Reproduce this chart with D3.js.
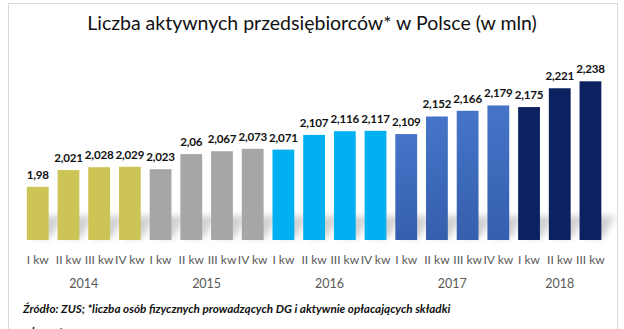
<!DOCTYPE html>
<html><head><meta charset="utf-8">
<script src="https://cdn.jsdelivr.net/npm/d3@7"></script>
<style>body{margin:0;background:#fff}svg{display:block}</style>
</head><body>
<svg id="c" width="624" height="329"></svg>
<script>
const quarters = ["I kw","II kw","III kw","IV kw","I kw","II kw","III kw","IV kw","I kw","II kw","III kw","IV kw","I kw","II kw","III kw","IV kw","I kw","II kw","III kw"];
const years = ["2014","2014","2014","2014","2015","2015","2015","2015","2016","2016","2016","2016","2017","2017","2017","2017","2018","2018","2018"];
const values = [1.98,2.021,2.028,2.029,2.023,2.06,2.067,2.073,2.071,2.107,2.116,2.117,2.109,2.152,2.166,2.179,2.175,2.221,2.238];
const valueLabels = ["1,98","2,021","2,028","2,029","2,023","2,06","2,067","2,073","2,071","2,107","2,116","2,117","2,109","2,152","2,166","2,179","2,175","2,221","2,238"];
const yearList = ["2014","2015","2016","2017","2018"];
const yearColors = ["#CCC555","#A6A6A6","#00B0F0","#3F6DC0","#0C2260"];
const title = "Liczba aktywnych przedsiębiorców* w Polsce (w mln)";
const note = "Źródło: ZUS; *liczba osób fizycznych prowadzących DG i aktywnie opłacających składki";

const svg = d3.select("#c");
const font = "Lato, 'Open Sans', sans-serif";
const defs = svg.append("defs");
defs.append("filter").attr("id","blur").attr("x","-50%").attr("y","-50%").attr("width","200%").attr("height","200%")
  .append("feGaussianBlur").attr("stdDeviation",3);
const g2017 = defs.append("linearGradient").attr("id","g2017").attr("x1",0).attr("y1",0).attr("x2",0).attr("y2",1);
g2017.append("stop").attr("offset","0%").attr("stop-color","#4674C8");
g2017.append("stop").attr("offset","100%").attr("stop-color","#355FAE");

// frame
svg.append("rect").attr("x",8.5).attr("y",3.5).attr("width",609).attr("height",340)
  .attr("fill","none").attr("stroke","#D9D9D9");

const idx = d3.range(values.length);
const x = d3.scaleBand().domain(idx).range([22.4,605.8]).paddingInner(0.29).paddingOuter(0.145);
const y = d3.scaleLinear().domain([1.85,2.25]).range([240,76.4]);
const color = d3.scaleOrdinal().domain(yearList).range(yearColors);
const fillFor = i => years[i]==="2017" ? "url(#g2017)" : color(years[i]);

// shadows
svg.append("g").selectAll("path").data(idx).join("path")
  .attr("d", i => {
    const x0 = x(i), w = x.bandwidth(), b = y(1.85);
    return `M${x0+4},${b-2} L${x0+w+2},${b-2} L${x0+w+14},${b-24} L${x0+12},${b-24} Z`;
  })
  .attr("fill","#9a9a9a").attr("opacity",0.45).attr("filter","url(#blur)");

svg.append("g").selectAll("rect").data(idx).join("rect")
  .attr("x", i => x(i)).attr("width", x.bandwidth())
  .attr("y", i => y(values[i])).attr("height", i => y(1.85) - y(values[i]))
  .attr("fill", fillFor);

svg.append("g").selectAll("text").data(idx).join("text")
  .attr("x", i => x(i) + x.bandwidth()/2).attr("y", i => y(values[i]) - 8)
  .attr("text-anchor","middle").attr("font-family",font).attr("font-weight","bold")
  .attr("font-size",11.6).attr("letter-spacing","-0.2").attr("fill","#111").text(i => valueLabels[i]);

// quarter axis
const xAxis = d3.axisBottom(x).tickSize(0).tickFormat(i => quarters[i]);
const ax = svg.append("g").attr("transform","translate(0,252)").call(xAxis);
ax.select(".domain").remove();
ax.selectAll("text").attr("font-family",font).attr("font-size",12).attr("fill","#595959").attr("dy","0.71em");

// year labels
svg.append("g").selectAll("text").data(yearList).join("text")
  .attr("x", yr => {
    const ii = idx.filter(i => years[i]===yr);
    return (x(ii[0]) + x(ii[ii.length-1]) + x.bandwidth())/2;
  })
  .attr("y",288).attr("text-anchor","middle").attr("font-family",font)
  .attr("font-size",12.5).attr("fill","#595959").text(d => d);

svg.append("text").attr("x",312).attr("y",30).attr("text-anchor","middle")
  .attr("font-family",font).attr("font-size",19.5).attr("fill","#111").text(title);

svg.append("text").attr("x",23).attr("y",313).attr("font-family",font)
  .attr("font-weight","bold").attr("font-style","italic").attr("font-size",11.7).attr("fill","#111").text(note);
svg.append("text").attr("x",23).attr("y",336).attr("font-family",font)
  .attr("font-weight","bold").attr("font-style","italic").attr("font-size",11.7).attr("fill","#111").text("zdrowotne");
</script>
</body></html>
